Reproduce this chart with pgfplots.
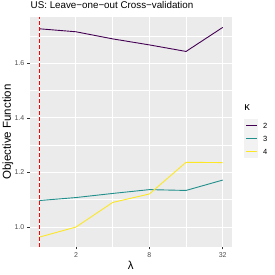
\documentclass[border=0pt]{standalone}
\usepackage{fontspec}
\setmainfont{Liberation Sans}
\usepackage{pgfplots}
\pgfplotsset{compat=1.18}
\definecolor{vA}{HTML}{440154}
\definecolor{vB}{HTML}{21908C}
\definecolor{vC}{HTML}{FDE725}
\definecolor{panelbg}{HTML}{EBEBEB}
\definecolor{ticklab}{HTML}{4D4D4D}
\definecolor{tickcol}{HTML}{333333}
\definecolor{keybg}{HTML}{F2F2F2}
\begin{document}
\begin{tikzpicture}
\useasboundingbox (0,0) rectangle (275bp,275bp);
% x is log2(lambda): 0=1, 1=2, 2=4, 3=8, 4=16, 5=32
\begin{axis}[
  at={(30bp,28.3bp)}, anchor=south west,
  scale only axis, width=201.7bp, height=229.4bp,
  xmin=-0.253, xmax=5.245,
  ymin=0.928, ymax=1.768,
  axis background/.style={fill=panelbg},
  axis line style={draw=none},
  xtick={1,3,5}, xticklabels={2,8,32},
  minor xtick={0,2,4},
  ytick={1.0,1.2,1.4,1.6}, yticklabels={1.0,1.2,1.4,1.6},
  minor ytick={1.1,1.3,1.5,1.7},
  grid=both,
  major grid style={white, line width=1bp},
  minor grid style={white, line width=0.5bp},
  tick align=outside,
  major tick length=2.7bp, minor tick length=0pt,
  tick style={tickcol, line width=0.5bp},
  xtick pos=bottom, ytick pos=left,
  /pgf/number format/assume math mode=true,
  ticklabel style={font=\fontsize{7bp}{8bp}\selectfont, text=ticklab},
  xticklabel style={yshift=0.5bp},
  yticklabel style={xshift=0.5bp},
  xlabel={λ}, ylabel={Objective Function},
  xlabel style={at={(axis description cs:0.5,-0.082)}, anchor=center, inner sep=0pt, font=\fontsize{11.5bp}{13bp}\selectfont},
  ylabel style={at={(axis description cs:-0.109,0.5)}, anchor=center, inner sep=0pt, font=\fontsize{11.5bp}{13bp}\selectfont},
  title={US: Leave−one−out Cross−validation},
  title style={at={(axis description cs:0,1.0144)}, anchor=base west, inner sep=0pt, xshift=0.5bp, font=\fontsize{9.8bp}{11bp}\selectfont},
  legend style={at={(axis description cs:1.0675,0.5565)}, anchor=north west, draw=none, fill=none,
    inner sep=0pt, outer sep=0pt, row sep=0pt, column sep=6bp, font=\fontsize{7.5bp}{8bp}\selectfont,
    nodes={inner sep=0pt, outer sep=0pt, text height=5.5bp, text depth=0pt}},
  legend cell align=left,
  legend image code/.code={\draw[#1] (0bp,0bp) -- (11bp,0bp); \path[draw=none, fill=none] (0bp,-6.5bp) -- (0bp,6.5bp);},
  clip=false,
]
\fill[keybg] (axis description cs:1.0615,0.3865) rectangle (axis description cs:1.1285,0.5565);
\addplot[vA, line width=0.9bp] coordinates {(0,1.726) (1,1.715) (2,1.689) (3,1.667) (4,1.643) (5,1.731)};
\addlegendentry{2}
\addplot[vB, line width=0.9bp] coordinates {(0,1.097) (1,1.108) (2,1.123) (3,1.137) (4,1.134) (5,1.172)};
\addlegendentry{3}
\addplot[vC, line width=0.9bp] coordinates {(0,0.963) (1,1.000) (2,1.090) (3,1.121) (4,1.237) (5,1.236)};
\addlegendentry{4}
\addplot[red, line width=0.6bp, dash pattern=on 3.5bp off 2.5bp, forget plot] coordinates {(0,0.928) (0,1.768)};
\node[anchor=west, font=\fontsize{11bp}{12bp}\selectfont, inner sep=0pt] at (axis description cs:1.062,0.605) {κ};
\end{axis}
\end{tikzpicture}
\end{document}
